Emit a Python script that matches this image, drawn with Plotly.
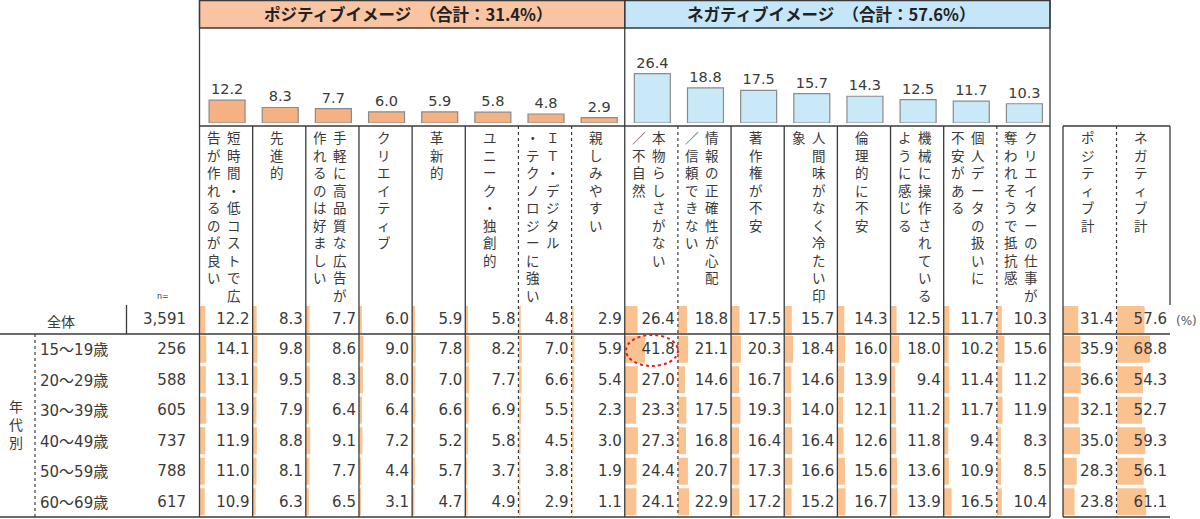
import plotly.graph_objects as go

# ---------------- data ----------------
pos_items = ["短時間・低コストで広告が作れるのが良い", "先進的", "手軽に高品質な広告が作れるのは好ましい",
             "クリエイティブ", "革新的", "ユニーク・独創的", "ＩＴ・デジタル・テクノロジーに強い", "親しみやすい"]
neg_items = ["本物らしさがない／不自然", "情報の正確性が心配／信頼できない", "著作権が不安",
             "人間味がなく冷たい印象", "倫理的に不安", "機械に操作されているように感じる",
             "個人データの扱いに不安がある", "クリエイターの仕事が奪われそうで抵抗感"]
total_items = ["ポジティブ計", "ネガティブ計"]

row_labels = ["全体", "15～19歳", "20～29歳", "30～39歳", "40～49歳", "50～59歳", "60～69歳"]
n_values = [3591, 256, 588, 605, 737, 788, 617]

pos_overall = [12.2, 8.3, 7.7, 6.0, 5.9, 5.8, 4.8, 2.9]
neg_overall = [26.4, 18.8, 17.5, 15.7, 14.3, 12.5, 11.7, 10.3]
pos_total_overall = 31.4
neg_total_overall = 57.6

pos_by_age = [
    [14.1, 9.8, 8.6, 9.0, 7.8, 8.2, 7.0, 5.9],
    [13.1, 9.5, 8.3, 8.0, 7.0, 7.7, 6.6, 5.4],
    [13.9, 7.9, 6.4, 6.4, 6.6, 6.9, 5.5, 2.3],
    [11.9, 8.8, 9.1, 7.2, 5.2, 5.8, 4.5, 3.0],
    [11.0, 8.1, 7.7, 4.4, 5.7, 3.7, 3.8, 1.9],
    [10.9, 6.3, 6.5, 3.1, 4.7, 4.9, 2.9, 1.1],
]
neg_by_age = [
    [41.8, 21.1, 20.3, 18.4, 16.0, 18.0, 10.2, 15.6],
    [27.0, 14.6, 16.7, 14.6, 13.9, 9.4, 11.4, 11.2],
    [23.3, 17.5, 19.3, 14.0, 12.1, 11.2, 11.7, 11.9],
    [27.3, 16.8, 16.4, 16.4, 12.6, 11.8, 9.4, 8.3],
    [24.4, 20.7, 17.3, 16.6, 15.6, 13.6, 10.9, 8.5],
    [24.1, 22.9, 17.2, 15.2, 16.7, 13.9, 16.5, 10.4],
]
pos_total_by_age = [35.9, 36.6, 32.1, 35.0, 28.3, 23.8]
neg_total_by_age = [68.8, 54.3, 52.7, 59.3, 56.1, 61.1]

# ---------------- layout constants ----------------
W, H = 1200, 519
LEFT, RIGHT = 199.5, 1050.0
CW = (RIGHT - LEFT) / 16
SUM_L, SUM_W = 1063.0, 53.5
BASE = 123.0           # baseline of top bars (px)
PX_PER_UNIT = 1.87
CELL_RANGE = 110.0
LINE = "#3a3a3a"
TXT = "#3a3a3a"
POS_HEAD, NEG_HEAD = "#F8C4A2", "#C4E6F8"
POS_BAR, NEG_BAR = "#F4B183", "#C9E9F8"
CELL = "#FAC291"
NUM_FONT = "DejaVu Sans, Noto Sans CJK JP"
JP_FONT = "Noto Sans CJK JP"
VERT_FONT = "DejaVu Sans, Noto Sans CJK JP"
ROW_C = [319.5] + [334 + 30.5 * (i + 0.5) for i in range(6)]
pos_split = [10, 0, 10, 0, 0, 0, 7, 0]
neg_split = [8, 9, 0, 10, 0, 10, 9, 10]
seps_pos = ["solid", "solid", "solid", "solid", "solid", "dot", "dot"]
seps_neg = ["dot", "solid", "solid", "solid", "solid", "solid", "dot"]


def col_left(k):
    if k < 16:
        return LEFT + k * CW
    return SUM_L + (k - 16) * SUM_W


def col_w(k):
    return CW if k < 16 else SUM_W


def col_center(k):
    return col_left(k) + col_w(k) / 2


fig = go.Figure()

# top bars
fig.add_bar(x=[col_center(i) + 1 for i in range(8)], y=pos_overall, xaxis="x", yaxis="y2", width=36,
            marker=dict(color=POS_BAR, line=dict(color="#8a8a8a", width=1.2)),
            text=[f"{v:.1f}" for v in pos_overall], textposition="outside", cliponaxis=False,
            textfont=dict(family=NUM_FONT, size=14.5, color=TXT), hoverinfo="skip", showlegend=False)
fig.add_bar(x=[col_center(8 + i) + 1 for i in range(8)], y=neg_overall, xaxis="x", yaxis="y2", width=36,
            marker=dict(color=NEG_BAR, line=dict(color="#8a8a8a", width=1.2)),
            text=[f"{v:.1f}" for v in neg_overall], textposition="outside", cliponaxis=False,
            textfont=dict(family=NUM_FONT, size=14.5, color=TXT), hoverinfo="skip", showlegend=False)

# table columns
table_cols = []
for j in range(8):
    table_cols.append([pos_overall[j]] + [r[j] for r in pos_by_age])
for j in range(8):
    table_cols.append([neg_overall[j]] + [r[j] for r in neg_by_age])
table_cols.append([pos_total_overall] + pos_total_by_age)
table_cols.append([neg_total_overall] + neg_total_by_age)

layout_axes = {}
for k, vals in enumerate(table_cols):
    ax = f"x{k + 3}"
    fig.add_bar(x=vals, y=ROW_C, orientation="h", xaxis=ax, yaxis="y", width=27,
                marker=dict(color=CELL, line=dict(width=0)), hoverinfo="skip", showlegend=False)
    layout_axes[f"xaxis{k + 3}"] = dict(domain=[col_left(k) / W, (col_left(k) + col_w(k)) / W],
                                       range=[0, CELL_RANGE], visible=False, anchor="y", fixedrange=True)
    text_x = CELL_RANGE * (col_w(k) - 3) / col_w(k)
    fig.add_scatter(x=[text_x] * len(vals), y=[c + 1 for c in ROW_C], mode="text", cliponaxis=False,
                    text=[f"{v:.1f}" for v in vals], textposition="middle left", xaxis=ax, yaxis="y",
                    textfont=dict(family=NUM_FONT, size=15, color=TXT), hoverinfo="skip", showlegend=False)

# n column
fig.add_scatter(x=[186] * len(n_values), y=[c + 1 for c in ROW_C], mode="text",
                text=[f"{v:,}" for v in n_values], textposition="middle left", xaxis="x", yaxis="y",
                textfont=dict(family=NUM_FONT, size=15, color=TXT), hoverinfo="skip", showlegend=False)

# ---------------- shapes ----------------
shapes = []


def line(x0, y0, x1, y1, dash="solid", w=1.3):
    shapes.append(dict(type="line", xref="x", yref="y", x0=x0, y0=y0, x1=x1, y1=y1,
                       line=dict(color=LINE, width=w, dash=dash)))


shapes.append(dict(type="rect", xref="x", yref="y", x0=LEFT, x1=col_left(8), y0=0.7, y1=28,
                   fillcolor=POS_HEAD, line=dict(color=LINE, width=1.3), layer="below"))
shapes.append(dict(type="rect", xref="x", yref="y", x0=col_left(8), x1=RIGHT, y0=0.7, y1=28,
                   fillcolor=NEG_HEAD, line=dict(color=LINE, width=1.3), layer="below"))
line(LEFT, 0, LEFT, 517)
line(col_left(8), 0, col_left(8), 517)
line(RIGHT, 0, RIGHT, 517)
line(LEFT, 126, RIGHT, 126)
for i, d in enumerate(seps_pos):
    line(col_left(i + 1), 126, col_left(i + 1), 517, dash=d, w=1.3 if d == "solid" else 1.2)
for i, d in enumerate(seps_neg):
    line(col_left(9 + i), 126, col_left(9 + i), 517, dash=d, w=1.3 if d == "solid" else 1.2)
# summary box
line(SUM_L, 126, SUM_L + 2 * SUM_W, 126)
line(SUM_L, 126, SUM_L, 517)
line(SUM_L + 2 * SUM_W, 126, SUM_L + 2 * SUM_W, 305)
line(SUM_L + SUM_W, 126, SUM_L + SUM_W, 517, dash="dot", w=1.2)
# horizontal rules
line(0, 334, RIGHT, 334)
line(SUM_L, 334, SUM_L + 2 * SUM_W, 334)
line(0, 517, RIGHT, 517)
line(SUM_L, 517, SUM_L + 2 * SUM_W, 517)
line(126.5, 305, 126.5, 334)
line(35, 334, 35, 517, dash="dot", w=1.2)
# highlight
shapes.append(dict(type="circle", xref="x", yref="y", x0=626, x1=678, y0=335, y1=366,
                   line=dict(color="#E02020", width=2, dash="dot")))

# ---------------- annotations ----------------
ann = []


def vtext(s):
    return "<br>".join(list(s))


def add_vlabel(k, s, split):
    c = col_center(k)
    if split:
        ann.append(dict(x=c + 8, y=128, text=vtext(s[:split])))
        ann.append(dict(x=c - 12, y=128, text=vtext(s[split:])))
    else:
        ann.append(dict(x=c - 2, y=128, text=vtext(s)))


for i, s in enumerate(pos_items):
    add_vlabel(i, s, pos_split[i])
for i, s in enumerate(neg_items):
    add_vlabel(8 + i, s, neg_split[i])
for i, s in enumerate(total_items):
    add_vlabel(16 + i, s, 0)
for a in ann:
    a.update(xref="x", yref="y", xanchor="center", yanchor="top", showarrow=False,
             font=dict(family=VERT_FONT, size=13.5, color=TXT))

ann.append(dict(x=(LEFT + col_left(8)) / 2 - 4, y=14, xref="x", yref="y", showarrow=False,
                text=f"<b>ポジティブイメージ　（合計：{pos_total_overall}%）</b>",
                font=dict(family=JP_FONT, size=16.5, color="#222")))
ann.append(dict(x=(col_left(8) + RIGHT) / 2 - 6, y=14, xref="x", yref="y", showarrow=False,
                text=f"<b>ネガティブイメージ　（合計：{neg_total_overall}%）</b>",
                font=dict(family=JP_FONT, size=16.5, color="#222")))
ann.append(dict(x=61, y=ROW_C[0] + 1, xref="x", yref="y", showarrow=False, text=row_labels[0],
                font=dict(family=JP_FONT, size=14, color=TXT)))
for i in range(1, 7):
    ann.append(dict(x=38, y=ROW_C[i] + 1, xref="x", yref="y", showarrow=False, xanchor="left",
                    text=row_labels[i], font=dict(family=NUM_FONT, size=15, color=TXT)))
ann.append(dict(x=16, y=425, xref="x", yref="y", showarrow=False, text=vtext("年代別"),
                font=dict(family=VERT_FONT, size=14, color=TXT)))
ann.append(dict(x=1174, y=ROW_C[0] + 1, xref="x", yref="y", showarrow=False, xanchor="left",
                text="(%)", font=dict(family=NUM_FONT, size=12, color="#555")))
ann.append(dict(x=163, y=296, xref="x", yref="y", showarrow=False, text="n=",
                font=dict(family=NUM_FONT, size=8, color=TXT)))

fig.update_layout(
    width=W, height=H, margin=dict(l=0, r=0, t=0, b=0),
    paper_bgcolor="white", plot_bgcolor="rgba(0,0,0,0)",
    barmode="overlay", showlegend=False,
    xaxis=dict(range=[0, W], visible=False, domain=[0, 1], fixedrange=True),
    yaxis=dict(range=[H, 0], visible=False, domain=[0, 1], fixedrange=True),
    yaxis2=dict(domain=[(H - BASE) / H, 1], range=[0, BASE / PX_PER_UNIT], visible=False,
                anchor="x", fixedrange=True),
    shapes=shapes, annotations=ann,
    **layout_axes,
)

fig.write_html("out.html", config={"displayModeBar": False},
               post_script="document.body.style.margin='0';document.body.style.overflow='hidden';")
